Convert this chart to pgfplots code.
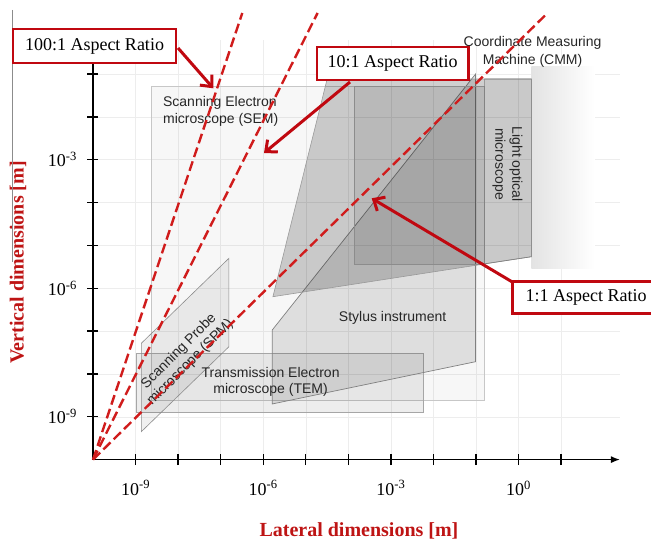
\documentclass[border=0pt]{standalone}
\usepackage{fontspec}
\setmainfont{Liberation Serif}
\newfontfamily\arialf{Liberation Sans}
\usepackage{pgfplots}
\pgfplotsset{compat=1.18}
\usetikzlibrary{arrows.meta}
\definecolor{annred}{RGB}{192,8,16}
\definecolor{dashred}{RGB}{208,28,28}
\definecolor{labred}{RGB}{190,20,20}
\begin{document}
\begin{tikzpicture}
\path[use as bounding box] (0pt,0pt) rectangle (651pt,541pt);
\begin{axis}[
  at={(93pt,81.4pt)}, anchor=south west,
  scale only axis, width=527pt, height=419.6pt,
  xmode=log, ymode=log,
  xmin=1e-10, xmax=241.5, ymin=1e-10, ymax=0.623,
  axis x line*=bottom, axis y line*=left,
  x axis line style={line width=1.5pt, -{Latex[length=9pt,width=7pt]}},
  y axis line style={line width=1.5pt},
  xtick={1e-9,1e-8,1e-7,1e-6,1e-5,1e-4,1e-3,1e-2,1e-1,1,10},
  xticklabels={10\textsuperscript{-9},,,10\textsuperscript{-6},,,10\textsuperscript{-3},,,10\textsuperscript{0},},
  ytick={1e-9,1e-8,1e-7,1e-6,1e-5,1e-4,1e-3,1e-2,1e-1},
  yticklabels={10\textsuperscript{-9},,,10\textsuperscript{-6},,,10\textsuperscript{-3},,},
  xminorticks=false, yminorticks=false,
  tick align=center, major tick length=11pt,
  tick style={black, line width=1.3pt},
  ticklabel style={font=\fontsize{18}{20}\selectfont},
  xticklabel style={yshift=-12pt},
  yticklabel style={xshift=-7pt},
  grid=major, major grid style={black!7, line width=0.5pt},
  xlabel={Lateral dimensions [m]},
  ylabel={Vertical dimensions [m]},
  label style={font=\fontsize{20}{24}\selectfont\bfseries, text=labred},
  xlabel style={at={(axis description cs:0.5047,-0.170)}, anchor=center},
  ylabel style={at={(axis description cs:-0.1423,0.4697)}, anchor=center},
  clip=false,
]
% Scanning electron microscope
\addplot[draw=black!22, line width=0.6pt, fill=black, fill opacity=0.03]
  coordinates {(2.38e-9,2.46e-9) (0.159,2.46e-9) (0.159,0.0526) (2.38e-9,0.0526)} -- cycle;
% CMM fade
\addplot[draw=none, left color=black!11, right color=white]
  coordinates {(1.99,2.96e-6) (61,2.96e-6) (61,0.154) (1.99,0.154)} -- cycle;
% TEM
\addplot[draw=black!35, line width=0.6pt, fill=black, fill opacity=0.07]
  coordinates {(1.04e-9,1.26e-9) (5.64e-3,1.26e-9) (5.64e-3,3.08e-8) (1.04e-9,3.08e-8)} -- cycle;
% SPM
\addplot[draw=black!45, line width=0.6pt, fill=black, fill opacity=0.06]
  coordinates {(1.365e-9,4.48e-10) (1.365e-9,5.19e-8) (1.56e-7,5.00e-6) (1.56e-7,4.31e-8)} -- cycle;
% Stylus instrument
\addplot[draw=black!50, line width=0.7pt, fill=black, fill opacity=0.10]
  coordinates {(1.63e-6,1.06e-7) (0.0977,0.1002) (0.0977,1.93e-8) (1.63e-6,1.99e-9)} -- cycle;
% Light optical (outer)
\addplot[draw=black!40, line width=0.6pt, fill=black, fill opacity=0.19]
  coordinates {(1.69e-6,6.35e-7) (3.18e-5,0.0766) (1.99,0.0766) (1.99,5.44e-6)} -- cycle;
\addplot[draw=black!45, line width=0.6pt, fill=black, fill opacity=0.08]
  coordinates {(1.40e-4,3.68e-6) (0.159,3.68e-6) (0.159,0.0526) (1.40e-4,0.0526)} -- cycle;
\addplot[draw=black!50, line width=0.6pt, fill=black, fill opacity=0.03]
  coordinates {(0.159,3.72e-6) (1.99,5.44e-6) (1.99,0.0766) (0.159,0.0766)} -- cycle;
% labels
\node[font=\arialf\fontsize{14}{17}\selectfont, align=left, anchor=west, text=black!85] at (axis cs:3.67e-9,0.01337) {Scanning Electron\\microscope (SEM)};
\node[font=\arialf\fontsize{14}{18}\selectfont, align=center, text=black!85] at (axis cs:2.13,0.327) {Coordinate Measuring\\Machine (CMM)};
\node[font=\arialf\fontsize{14}{17}\selectfont, align=center, rotate=-90, text=black!85] at (axis cs:0.552,7.94e-4) {Light optical\\microscope};
\node[font=\arialf\fontsize{14}{17}\selectfont, text=black!85] at (axis cs:1.10e-3,2.02e-7) {Stylus instrument};
\node[font=\arialf\fontsize{14}{16}\selectfont, align=center, rotate=45, text=black!85] at (axis cs:1.42e-8,2.48e-8) {Scanning Probe\\microscope (SPM)};
\node[font=\arialf\fontsize{14}{16}\selectfont, align=center, text=black!85] at (axis cs:1.49e-6,6.47e-9) {Transmission Electron\\microscope (TEM)};
% aspect ratio lines
\addplot[dashred, line width=2.4pt, dash pattern=on 10pt off 4.5pt] coordinates {(1e-10,1e-10) (4.80,2.66)};
\addplot[dashred, line width=2.4pt, dash pattern=on 10pt off 4.5pt] coordinates {(1e-10,1e-10) (1.89e-5,2.66)};
\addplot[dashred, line width=2.4pt, dash pattern=on 10pt off 4.5pt] coordinates {(1e-10,1e-10) (3.22e-7,2.66)};
\end{axis}
% page border line
\draw[black!45, line width=0.8pt] (12.3pt,531pt) -- (12.3pt,279pt);
% annotations
\draw[annred, line width=3pt, -{Straight Barb[length=9pt,width=16pt]}] (178pt,493pt) -- (213.3pt,452.7pt);
\draw[annred, line width=3pt, -{Straight Barb[length=9pt,width=16pt]}] (350pt,459pt) -- (264pt,388pt);
\draw[annred, line width=3pt, -{Straight Barb[length=9pt,width=16pt]}] (514pt,258pt) -- (371.7pt,342.7pt);
\draw[annred, line width=2.5pt, fill=white] (13pt,512pt) rectangle (176pt,478pt);
\node[font=\fontsize{18}{20}\selectfont] at (94.5pt,495pt) {100:1 Aspect Ratio};
\draw[annred, line width=2.5pt, fill=white] (317pt,494pt) rectangle (468.3pt,461pt);
\node[font=\fontsize{18}{20}\selectfont] at (392.6pt,477.5pt) {10:1 Aspect Ratio};
\draw[annred, line width=2.5pt, fill=white] (512.7pt,259.3pt) rectangle (656pt,227.7pt);
\node[font=\fontsize{18}{20}\selectfont, anchor=west] at (522pt,243.5pt) {1:1 Aspect Ratio};
\end{tikzpicture}
\end{document}
